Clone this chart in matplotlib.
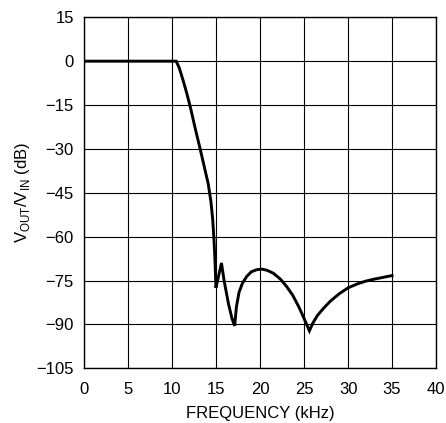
import matplotlib
matplotlib.use("Agg")
import matplotlib.pyplot as plt

plt.rcParams['font.family'] = ['Liberation Sans Narrow', 'Liberation Sans', 'DejaVu Sans']
plt.rcParams['mathtext.fontset'] = 'custom'
plt.rcParams['mathtext.rm'] = 'Liberation Sans'

# frequency response
freq_khz = [0, 10.45, 10.8, 11.3, 11.7, 12.1, 12.6, 13.2, 13.7, 14.1, 14.4,
            14.6, 14.75, 14.86, 14.93, 14.97, 15.6, 15.9, 16.4, 16.8, 17.1,
            17.3, 17.6, 18.0, 18.5, 19.0, 19.6, 20.2, 20.8, 21.5, 22.3, 23.0,
            23.7, 24.4, 25.0, 25.6, 26.0, 26.5, 27.2, 28.0, 29.0, 30.0, 31.0,
            32.0, 33.0, 34.0, 35.0]
gain_db = [0, 0, -2.3, -7.2, -11.5, -16.2, -22.8, -30.3, -36.8, -42, -48,
           -54, -61, -68, -74, -77.5, -69, -75, -83, -88, -90.5,
           -84, -79, -75.8, -73.5, -72, -71.3, -71.1, -71.5, -72.5, -74.5, -77,
           -80, -84, -88, -92.2, -89.5, -87, -84.5, -82, -79.5, -77.5, -76.2,
           -75.2, -74.5, -73.9, -73.3]

xticks = [0, 5, 10, 15, 20, 25, 30, 35, 40]
yticks = [15, 0, -15, -30, -45, -60, -75, -90, -105]

fig = plt.figure(figsize=(4.46, 4.23), dpi=100)
ax = fig.add_axes([84.3 / 446, 54.7 / 423, 351.7 / 446, 351 / 423])

ax.plot(freq_khz, gain_db, color='black', linewidth=2.1, solid_joinstyle='miter')

ax.set_xlim(0, 40)
ax.set_ylim(-105, 15)
ax.set_xticks(xticks)
ax.set_yticks(yticks)
ax.grid(True, color='black', linewidth=0.8)
ax.tick_params(length=0, labelsize=12)
ax.tick_params(axis='x', pad=10)
ax.tick_params(axis='y', pad=7.5)
for s in ax.spines.values():
    s.set_color('black')
    s.set_linewidth(1.0)

ax.set_xlabel('FREQUENCY (kHz)', fontsize=12, labelpad=6)
ax.set_ylabel(r'V$_{\mathrm{OUT}}$/V$_{\mathrm{IN}}$ (dB)', fontsize=12, labelpad=3)

fig.savefig('out.png', dpi=100)
